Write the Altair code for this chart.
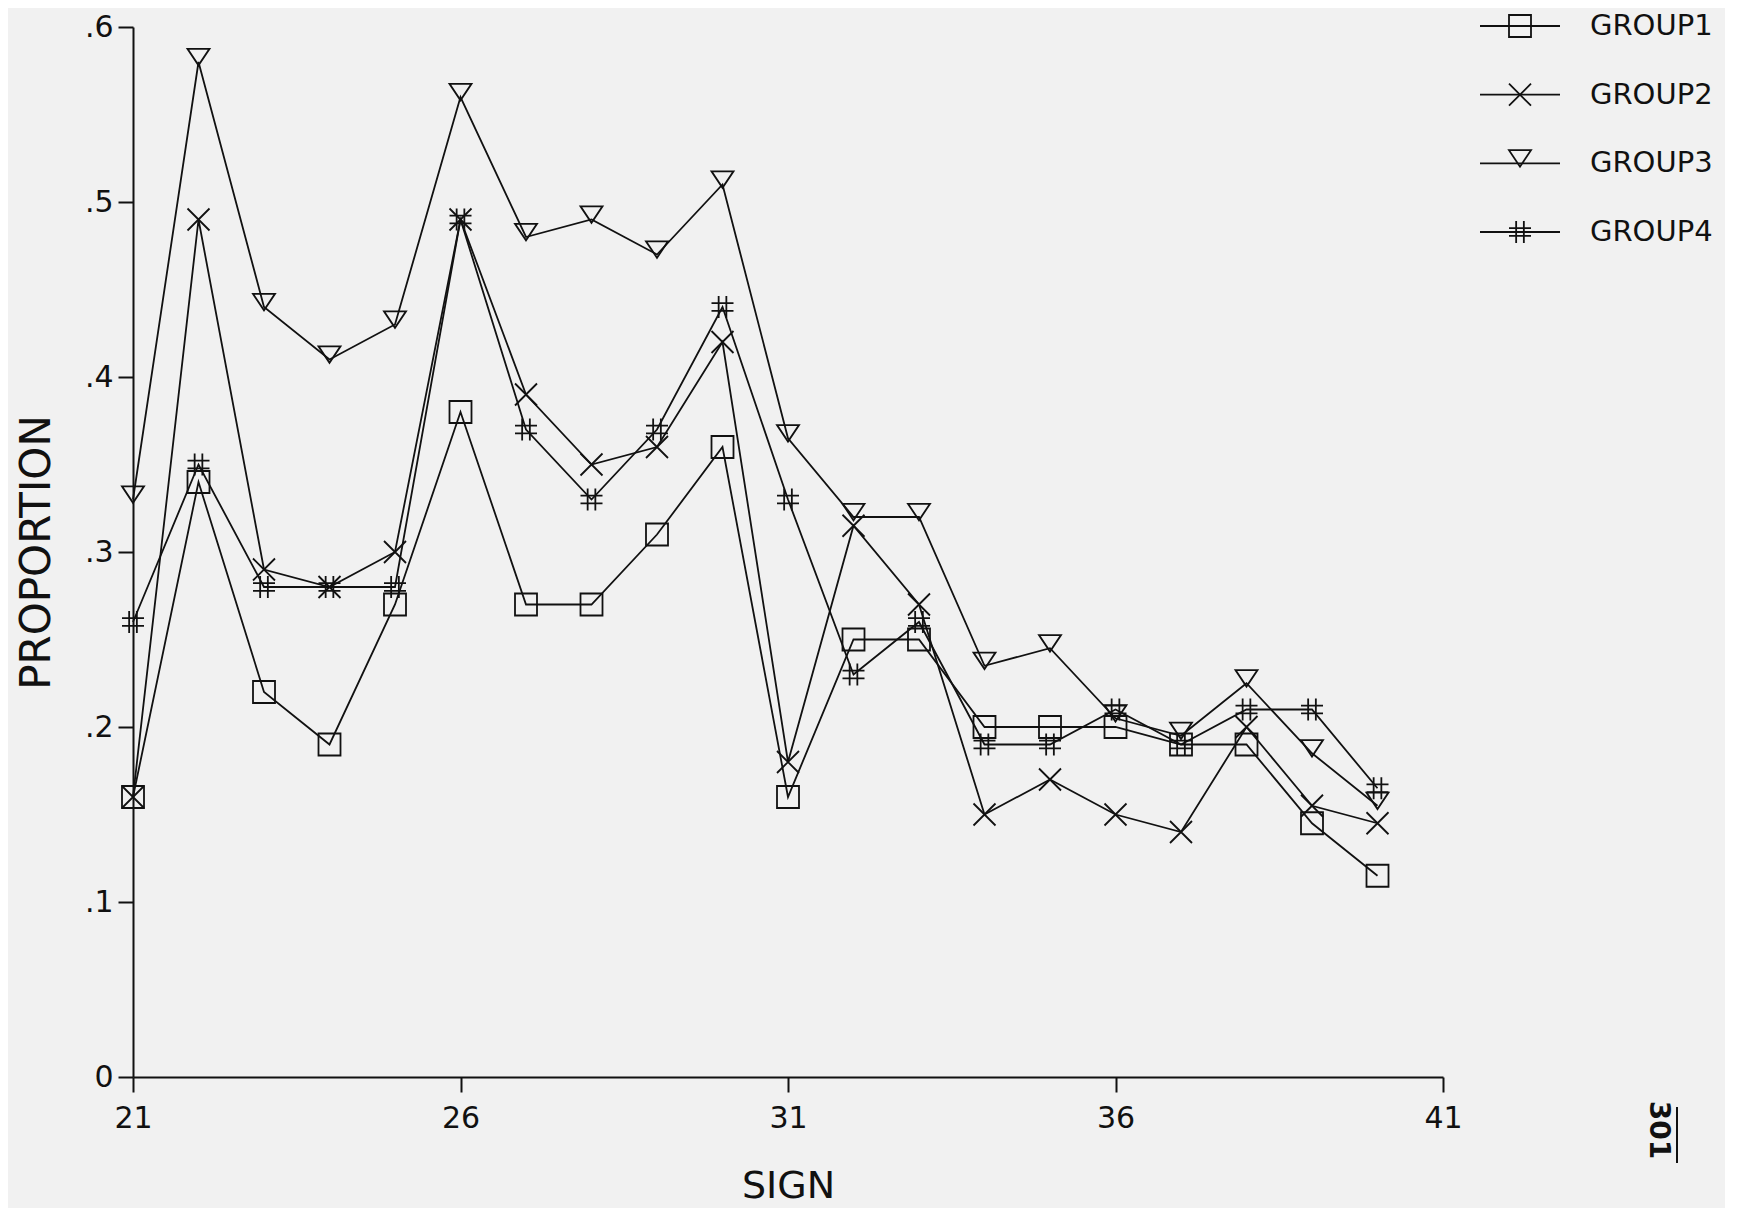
import altair as alt
import pandas as pd

# ---- data ----
signs = list(range(21, 41))
groups = ["GROUP1", "GROUP2", "GROUP3", "GROUP4"]
group1 = [.16, .34, .22, .19, .27, .38, .27, .27, .31, .36, .16, .25, .25, .20, .20, .20, .19, .19, .145, .115]
group2 = [.16, .49, .29, .28, .30, .49, .39, .35, .36, .42, .18, .315, .27, .15, .17, .15, .14, .20, .155, .145]
group3 = [.33, .58, .44, .41, .43, .56, .48, .49, .47, .51, .365, .32, .32, .235, .245, .205, .195, .225, .185, .155]
group4 = [.26, .35, .28, .28, .28, .49, .37, .33, .37, .44, .33, .23, .26, .19, .19, .21, .19, .21, .21, .165]
x_ticks = [21, 26, 31, 36, 41]
y_ticks = [0, .1, .2, .3, .4, .5, .6]
page_number = "301"

FONT = "DejaVu Sans"
INK = "#111111"

rows = []
for g, vals in zip(groups, [group1, group2, group3, group4]):
    for s, v in zip(signs, vals):
        rows.append({"sign": s, "proportion": v, "group": g})
df = pd.DataFrame(rows)

shapes = [
    "square",
    "M-1,-1L1,1M-1,1L1,-1",
    "M-1,-1.2L1,-1.2L0,0.3Z",
    "M-0.35,-1L-0.35,1M0.35,-1L0.35,1M-1,-0.35L1,-0.35M-1,0.35L1,0.35",
]
shape_scale = alt.Scale(domain=groups, range=shapes)

x = alt.X(
    "sign:Q",
    scale=alt.Scale(domain=[21, 41], nice=False, zero=False),
    axis=alt.Axis(values=x_ticks, title="SIGN", titlePadding=34, titleFontSize=38,
                  labelPadding=11, labelFlush=False),
)
y = alt.Y(
    "proportion:Q",
    scale=alt.Scale(domain=[0, .6], nice=False),
    axis=alt.Axis(
        values=y_ticks,
        title="PROPORTION",
        titleFontSize=42,
        titlePadding=26,
        labelPadding=5,
        labelFlush=False,
        labelExpr="datum.value == 0 ? '0' : replace(format(datum.value, '.1f'), '0.', '.')",
    ),
)

lines = alt.Chart(df).mark_line(color=INK, strokeWidth=1.8).encode(x=x, y=y, detail="group:N")
points = alt.Chart(df).mark_point(
    filled=False, color=INK, strokeWidth=1.8, size=484, opacity=1
).encode(x=x, y=y, shape=alt.Shape("group:N", scale=shape_scale, legend=None))

main = alt.layer(lines, points).properties(width=1310, height=1050)

# ---- hand-made legend (line + marker + label) ----
leg_df = pd.DataFrame({"group": groups})
ly = alt.Y("group:N", scale=alt.Scale(type="point", domain=groups, range=[-1, 205], padding=0), axis=None)
leg_line = alt.Chart(leg_df).mark_rule(color=INK, strokeWidth=1.8).encode(
    y=ly, x=alt.value(0), x2=alt.value(80)
)
leg_pt = alt.Chart(leg_df).mark_point(
    filled=False, color=INK, strokeWidth=1.8, size=484, opacity=1
).encode(y=ly, x=alt.value(40), shape=alt.Shape("group:N", scale=shape_scale, legend=None))
leg_txt = alt.Chart(leg_df).mark_text(
    align="left", baseline="middle", fontSize=29, font=FONT, color=INK
).encode(y=ly, x=alt.value(110), text="group:N")
num_txt = alt.Chart(leg_df.head(1)).mark_text(
    angle=90, align="center", baseline="middle", fontSize=28, fontWeight="bold", font=FONT, color=INK
).encode(x=alt.value(178), y=alt.value(1103), text=alt.value(page_number))
num_rule = alt.Chart(leg_df.head(1)).mark_rule(color=INK, strokeWidth=2).encode(
    x=alt.value(197), y=alt.value(1080), y2=alt.value(1136)
)

legend = alt.layer(leg_line, leg_pt, leg_txt, num_txt, num_rule).properties(width=240, height=1050)

chart = (
    alt.hconcat(main, legend, spacing=16)
    .properties(padding={"left": 7, "top": 3, "right": 5, "bottom": 5}, background="#f1f1f1")
    .configure_view(strokeWidth=0)
    .configure_axis(
        grid=False,
        domainColor=INK,
        domainWidth=2,
        tickColor=INK,
        tickWidth=2,
        tickSize=15,
        labelFont=FONT,
        labelFontSize=30,
        labelColor=INK,
        titleFont=FONT,
        titleFontWeight="normal",
        titleColor=INK,
    )
)

chart.save("out.html", embed_options={"renderer": "svg", "actions": False})
